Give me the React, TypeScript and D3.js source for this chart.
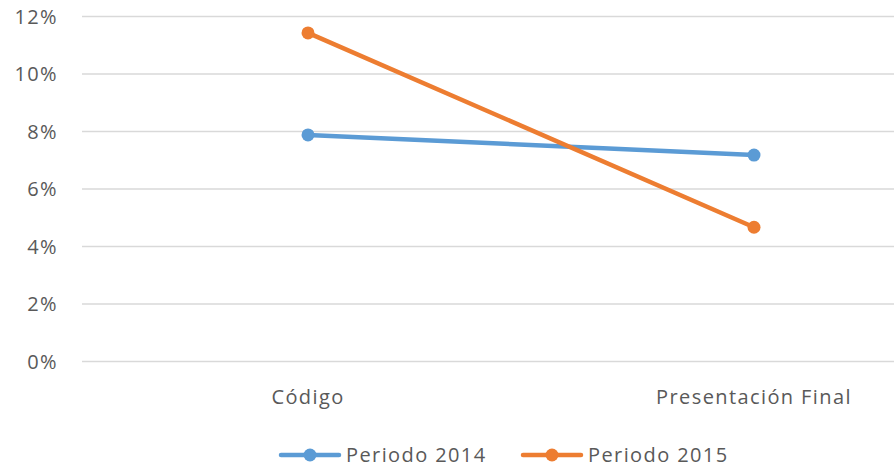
import React from "react";
import * as d3 from "d3";

const categories = ["Código", "Presentación Final"];
const seriesNames = ["Periodo 2014", "Periodo 2015"];
const periodo2014 = [0.0788, 0.0718];
const periodo2015 = [0.1143, 0.0467];
const yTicks = [0, 0.02, 0.04, 0.06, 0.08, 0.1, 0.12];
const colors = ["#5B9BD5", "#ED7D31"];

const W = 894;
const H = 467;
const FONT = "'Open Sans', 'Noto Sans', sans-serif";
const FS = 20;
const LS = 1.4;

export default function App() {
  const x = d3.scalePoint<string>().domain(categories).range([308, 754]);
  const y = d3.scaleLinear().domain([0, 0.12]).range([361.5, 16.5]);
  const fmt = d3.format(".0%");
  const line = d3
    .line<number>()
    .x((_, i) => x(categories[i]) as number)
    .y((d) => y(d));
  const series = [periodo2014, periodo2015];
  const legendX = [281, 523];

  return (
    <svg
      width={W}
      height={H}
      style={{ position: "absolute", left: 0, top: 0, background: "#fff" }}
      fontFamily={FONT}
    >
      {yTicks.map((t) => (
        <g key={t}>
          <line x1={82} x2={W} y1={y(t)} y2={y(t)} stroke="#D9D9D9" strokeWidth={1.3} />
          <text x={58} y={y(t)} dy="0.35em" textAnchor="end" fontSize={FS} letterSpacing={LS} fill="#595959">
            {fmt(t)}
          </text>
        </g>
      ))}
      {categories.map((c) => (
        <text key={c} x={x(c)} y={397} dy="0.35em" textAnchor="middle" fontSize={FS} letterSpacing={LS} fill="#595959">
          {c}
        </text>
      ))}
      {series.map((s, k) => (
        <g key={k}>
          <path d={line(s) as string} fill="none" stroke={colors[k]} strokeWidth={4.5} strokeLinecap="round" />
          {s.map((v, i) => (
            <circle key={i} cx={x(categories[i])} cy={y(v)} r={6.5} fill={colors[k]} />
          ))}
        </g>
      ))}
      {seriesNames.map((n, k) => (
        <g key={n} transform={`translate(${legendX[k]},455)`}>
          <line x1={0} x2={58} y1={0} y2={0} stroke={colors[k]} strokeWidth={4.5} strokeLinecap="round" />
          <circle cx={29} cy={0} r={6.5} fill={colors[k]} />
          <text x={65} y={0} dy="0.35em" fontSize={FS} letterSpacing={LS} fill="#595959">
            {n}
          </text>
        </g>
      ))}
    </svg>
  );
}
